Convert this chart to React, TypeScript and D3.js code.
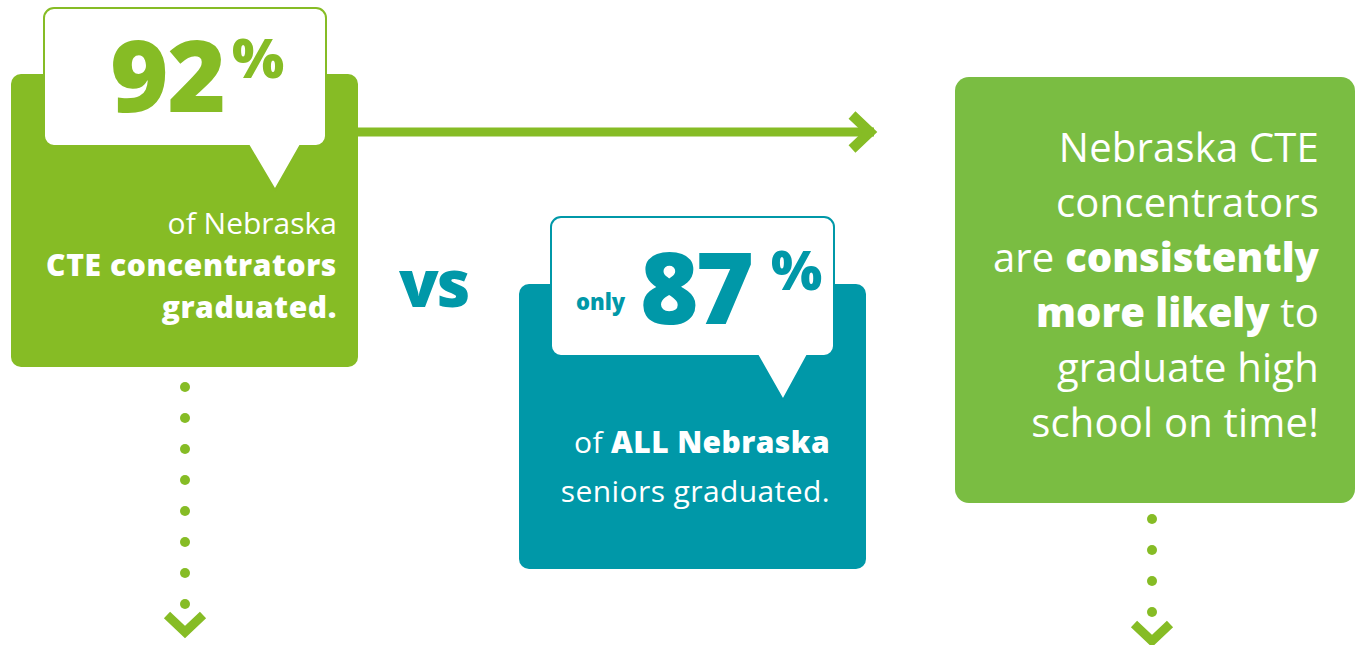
import React from "react";
import * as d3 from "d3";

const W = 1359;
const H = 645;

const GREEN = "#86bc25";
const GREEN2 = "#7abd42";
const TEAL = "#0098a8";

// data
const rates = [92, 87];
const leftLines = [
  [{ t: "of Nebraska", b: false }],
  [{ t: "CTE concentrators", b: true }],
  [{ t: "graduated.", b: true }],
];
const tealLines = [
  [{ t: "of ", b: false }, { t: "ALL Nebraska", b: true }],
  [{ t: "seniors graduated.", b: false }],
];
const rightLines = [
  [{ t: "Nebraska CTE", b: false }],
  [{ t: "concentrators", b: false }],
  [{ t: "are ", b: false }, { t: "consistently", b: true }],
  [{ t: "more likely", b: true }, { t: " to", b: false }],
  [{ t: "graduate high", b: false }],
  [{ t: "school on time!", b: false }],
];
const leftDots = d3.range(8);
const rightDots = d3.range(4);

const FONT = "'Open Sans', 'DejaVu Sans', sans-serif";

// speech bubble outline: rounded rect with a tail at the bottom
function bubble(x0: number, y0: number, x1: number, y1: number, tl: number, tr: number, tip: [number, number], r = 10) {
  const p = d3.path();
  p.moveTo(x0 + r, y0);
  p.lineTo(x1 - r, y0);
  p.arcTo(x1, y0, x1, y0 + r, r);
  p.lineTo(x1, y1 - r);
  p.arcTo(x1, y1, x1 - r, y1, r);
  p.lineTo(tr, y1);
  p.lineTo(tip[0], tip[1]);
  p.lineTo(tl, y1);
  p.lineTo(x0 + r, y1);
  p.arcTo(x0, y1, x0, y1 - r, r);
  p.lineTo(x0, y0 + r);
  p.arcTo(x0, y0, x0 + r, y0, r);
  p.closePath();
  return p.toString();
}

function Lines({ lines, x, y0, dy, size, ls = 0, bls = 0, fill = "#fff" }: any) {
  return (
    <text textAnchor="end" fontFamily={FONT} fontSize={size} fill={fill}>
      {lines.map((ln: any[], i: number) => (
        <tspan key={i} x={x} y={y0 + i * dy}>
          {ln.map((s, j) => (
            <tspan key={j} fontWeight={s.b ? 800 : 400} letterSpacing={s.b ? bls : ls}>{s.t}</tspan>
          ))}
        </tspan>
      ))}
    </text>
  );
}

function Dots({ cx, ys, color }: any) {
  return (
    <g fill={color}>
      {ys.map((y: number, i: number) => (
        <circle key={i} cx={cx} cy={y} r={5} />
      ))}
    </g>
  );
}

function Chevron({ cx, y, color }: any) {
  const line = d3.line();
  return (
    <path
      d={line([[cx - 18, y], [cx, y + 17], [cx + 18, y]]) as string}
      fill="none"
      stroke={color}
      strokeWidth={9}
      strokeLinejoin="miter"
    />
  );
}

export default function App() {
  const yLeft = d3.scaleLinear().domain([0, 1]).range([387, 418]);
  const yRight = d3.scaleLinear().domain([0, 1]).range([519, 550]);
  const arrow = d3.line();

  return (
    <svg width={W} height={H} style={{ position: "absolute", left: 0, top: 0, background: "#fff" }}>
      {/* left block */}
      <rect x={11} y={74} width={347} height={293} rx={10} fill={GREEN} />
      <path d={bubble(44, 8, 326, 146, 249, 300, [275, 190])} fill="#fff" stroke={GREEN} strokeWidth={2} />
      <text fontFamily={FONT} fontWeight={800} fill={GREEN}>
        <tspan x={110} y={112} fontSize={100} letterSpacing={-1}>{rates[0]}</tspan>
        <tspan x={232} y={78} fontSize={55}>%</tspan>
      </text>
      <Lines lines={leftLines} x={337} y0={234} dy={42} size={30} bls={0.6} />

      {/* arrow to the right */}
      <path d={arrow([[358, 132], [874, 132]]) as string} stroke={GREEN} strokeWidth={9} fill="none" />
      <path
        d={arrow([[852, 115], [870, 132], [852, 149]]) as string}
        stroke={GREEN}
        strokeWidth={10}
        fill="none"
        strokeLinejoin="miter"
      />

      {/* vs */}
      <text x={399} y={307} fontFamily={FONT} fontWeight={800} fontSize={65} fill={TEAL} letterSpacing={-2}>
        vs
      </text>

      {/* teal block */}
      <rect x={519} y={284} width={347} height={285} rx={10} fill={TEAL} />
      <path d={bubble(551, 217, 834, 356, 758, 807, [783, 400])} fill="#fff" stroke={TEAL} strokeWidth={2} />
      <text fontFamily={FONT} fontWeight={800} fill={TEAL}>
        <tspan x={576} y={310} fontSize={22}>only</tspan>
        <tspan x={640} y={324} fontSize={100} letterSpacing={-3}>{rates[1]}</tspan>
        <tspan x={771} y={290} fontSize={54}>%</tspan>
      </text>
      <Lines lines={tealLines} x={830} y0={453} dy={49} size={30} ls={0.4} bls={0.4} />

      {/* right block */}
      <rect x={955} y={77} width={400} height={426} rx={14} fill={GREEN2} />
      <Lines lines={rightLines} x={1319} y0={162} dy={55} size={40} ls={0.2} />

      {/* dotted down arrows */}
      <Dots cx={185} ys={leftDots.map(yLeft)} color={GREEN} />
      <Chevron cx={185} y={615} color={GREEN} />
      <Dots cx={1152} ys={rightDots.map(yRight)} color={GREEN} />
      <Chevron cx={1152} y={624} color={GREEN} />
    </svg>
  );
}
